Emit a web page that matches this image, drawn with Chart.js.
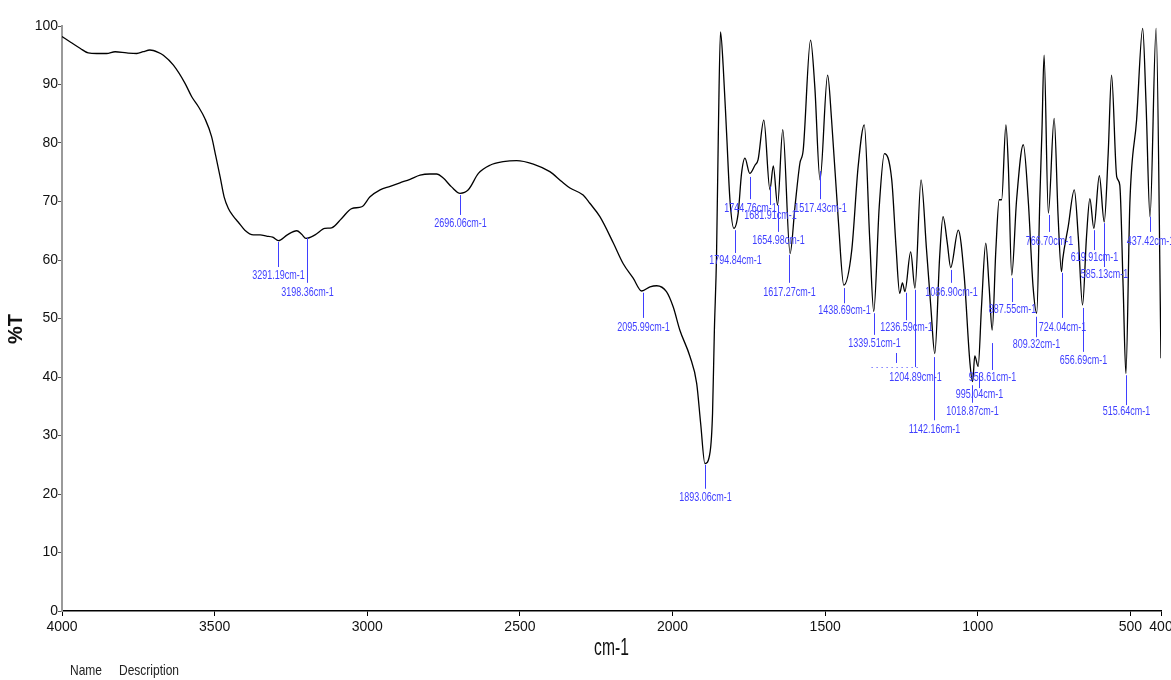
<!DOCTYPE html>
<html><head><meta charset="utf-8">
<script src="https://cdn.jsdelivr.net/npm/chart.js@4.4.1/dist/chart.umd.min.js"></script>
<style>html,body{margin:0;padding:0;background:#fff}#wrap{width:1171px;height:680px;position:relative}</style>
</head><body><div id="wrap"><canvas id="c" width="1171" height="680"></canvas></div>
<script>
// ---- data ----
const wavenumbers = [4000,3974,3941,3914,3886,3854,3826,3788,3755,3734,3712,3685,3668,3635,3597,3575,3553,3532,3510,3496,3482,3469,3455,3439,3423,3401,3373,3351,3330,3310,3291,3262,3231,3215,3201,3171,3139,3117,3084,3051,3018,2991,2958,2925,2893,2860,2827,2795,2773,2751,2724,2696,2669,2636,2598,2555,2511,2456,2402,2363,2336,2293,2271,2238,2194,2162,2129,2101,2074,2052,2020,1998,1976,1943,1921,1908,1894,1877,1869,1863,1856,1850,1843,1834,1823,1812,1799,1785,1774,1763,1747,1730,1720,1701,1681,1670,1656,1639,1615,1599,1583,1572,1548,1534,1517,1492,1479,1457,1439,1413,1392,1372,1354,1341,1323,1306,1282,1268,1256,1247,1239,1220,1206,1186,1168,1154,1141,1125,1114,1100,1089,1064,1045,1026,1017,1010,999,988,974,963,953,941,930,922,908,900,889,873,851,835,819,807,797,790,783,769,750,737,726,722,704,684,671,657,644,633,620,602,586,573,562,545,535,524,515,502,480,460,449,436,416,400];
const transmittance = [98.2,97.3,96.2,95.4,95.3,95.3,95.6,95.4,95.3,95.6,95.9,95.5,95.0,93.3,90.2,87.9,86.2,84.2,81.1,77.7,74.2,70.8,68.8,67.5,66.5,65.1,64.3,64.3,64.1,63.9,63.3,64.3,65.0,64.4,63.7,64.3,65.4,65.5,67.1,68.8,69.1,70.8,72.0,72.6,73.2,73.8,74.5,74.7,74.7,74.0,72.5,71.4,72.0,74.8,76.2,76.8,77.0,76.4,75.1,73.4,72.3,71.1,69.7,67.4,62.9,59.4,56.9,54.7,55.4,55.6,54.6,52.0,48.0,43.5,38.9,32.1,25.2,27.2,33.8,48.0,60.6,81.7,99.0,93.0,81.7,70.3,65.4,68.0,74.8,77.4,74.8,76.2,77.1,83.9,72.0,76.1,69.4,82.3,61.1,69.1,76.5,78.8,97.6,89.6,73.7,91.6,83.9,66.8,55.7,61.7,76.0,83.1,63.4,51.2,69.1,78.2,73.7,62.3,54.3,56.1,54.6,61.4,55.2,73.7,61.7,52.0,44.0,60.6,67.4,62.9,58.7,65.1,57.5,42.5,39.2,43.6,41.8,52.0,62.9,55.4,48.0,61.7,70.3,70.3,83.1,76.0,57.4,70.3,79.7,70.3,55.4,50.9,70.3,82.0,95.0,68.0,84.2,67.4,58.0,60.1,65.7,72.0,64.0,52.3,64.0,70.5,65.4,74.4,66.5,78.2,91.6,74.2,72.8,55.4,40.6,69.7,83.9,99.6,86.8,67.4,99.6,43.2];
const xTickValues = [4000,3500,3000,2500,2000,1500,1000,500,400];
const yTickValues = [0,10,20,30,40,50,60,70,80,90,100];
const peakWavenumbers = [3291.19,3198.36,2696.06,2095.99,1893.06,1794.84,1744.76,1681.91,1654.98,1617.27,1517.43,1438.69,1339.51,1236.59,1204.89,1142.16,1086.90,1018.87,995.04,953.61,887.55,809.32,766.70,724.04,656.69,619.91,585.13,515.64,437.42];
const peakLabels = peakWavenumbers.map(v => v.toFixed(2) + 'cm-1');
const xTitle = 'cm-1';
const yTitle = '%T';
const footerWords = ['Name', 'Description'];

// ---- label layout (placement only, in %T units): [leader top, leader bottom, text centre] ----
const peakLabelLayout = [
  [63.1,58.8,57.4],[63.8,56.1,54.5],[71.1,67.7,66.3],[54.4,50.1,48.5],[25.0,20.9,19.5],
  [65.1,61.2,60.0],[74.2,70.4,68.9],[72.6,69.4,67.7],[69.4,64.8,63.4],[60.9,56.1,54.5],
  [75.2,70.4,68.9],[55.2,52.6,51.3],[50.9,47.2,45.8],[54.4,49.7,48.5],[54.9,41.7,40.0],
  [43.4,32.6,31.1],[58.3,56.1,54.4],[38.6,35.6,34.2],[40.7,38.1,37.1],[45.8,41.2,40.0],
  [56.9,52.8,51.6],[50.3,46.8,45.6],[67.7,64.8,63.2],[57.8,50.1,48.5],[51.8,44.3,42.9],
  [65.1,61.7,60.5],[66.3,58.8,57.6],[40.3,35.2,34.2],[67.4,64.8,63.2]
];

const SANS = "'Liberation Sans',Arial,sans-serif";
const BLUE = '#3f3fff';

// draw condensed text (horizontal squeeze) centred at (x, y)
function squeezed(ctx, text, x, y, sx, align) {
  ctx.save();
  ctx.translate(x, y);
  ctx.scale(sx, 1);
  ctx.textAlign = align || 'center';
  ctx.textBaseline = 'middle';
  ctx.fillText(text, 0, 0);
  ctx.restore();
}

const overlayPlugin = {
  id: 'overlay',
  afterDraw(chart) {
    const {ctx, scales: {x, y}} = chart;
    ctx.save();
    ctx.strokeStyle = BLUE; ctx.fillStyle = BLUE; ctx.lineWidth = 1;
    ctx.font = '13px ' + SANS;
    peakWavenumbers.forEach((w, i) => {
      const [t0, t1, tt] = peakLabelLayout[i];
      const px = Math.round(x.getPixelForValue(w)) + 0.5;
      ctx.beginPath();
      ctx.moveTo(px, y.getPixelForValue(t0));
      ctx.lineTo(px, y.getPixelForValue(t1));
      ctx.stroke();
      squeezed(ctx, peakLabels[i], px, y.getPixelForValue(tt), 0.69);
    });
    // small leader artefact near 1267 cm-1 with dotted baseline
    const lx = Math.round(x.getPixelForValue(1267)) + 0.5;
    ctx.beginPath(); ctx.moveTo(lx, y.getPixelForValue(44.1)); ctx.lineTo(lx, y.getPixelForValue(42.4)); ctx.stroke();
    ctx.setLineDash([1, 4]);
    const dy = Math.round(y.getPixelForValue(41.7)) + 0.5;
    ctx.beginPath(); ctx.moveTo(x.getPixelForValue(1348), dy); ctx.lineTo(x.getPixelForValue(1196), dy); ctx.stroke();
    ctx.setLineDash([]);
    ctx.restore();

    ctx.save();
    // y title
    ctx.fillStyle = '#111';
    ctx.font = 'bold 20px ' + SANS;
    ctx.translate(16, 329); ctx.rotate(-Math.PI / 2);
    ctx.textAlign = 'center'; ctx.textBaseline = 'middle';
    ctx.fillText(yTitle, 0, 0);
    ctx.restore();

    ctx.save();
    // x title
    ctx.fillStyle = '#111';
    ctx.font = '23px ' + SANS;
    squeezed(ctx, xTitle, (x.left + x.right) / 2, 649, 0.68);
    // footer
    ctx.fillStyle = '#222'; ctx.font = '15px ' + SANS;
    squeezed(ctx, footerWords[0], 70, 671, 0.8, 'left');
    squeezed(ctx, footerWords[1], 119, 671, 0.8, 'left');
    ctx.restore();
  }
};

new Chart(document.getElementById('c').getContext('2d'), {
  type: 'line',
  data: {
    datasets: [{
      data: wavenumbers.map((w, i) => ({x: w, y: transmittance[i]})),
      borderColor: '#000', borderWidth: 1.3, pointRadius: 0,
      cubicInterpolationMode: 'monotone', fill: false
    }]
  },
  options: {
    responsive: false, animation: false, devicePixelRatio: 1,
    layout: {padding: {top: 26, right: 10, left: 0, bottom: 0}},
    plugins: {legend: {display: false}, tooltip: {enabled: false}},
    scales: {
      x: {
        type: 'linear', reverse: true, min: 400, max: 4000,
        afterBuildTicks: s => { s.ticks = xTickValues.map(v => ({value: v})); },
        afterFit: s => { s.height = 69; s.paddingLeft = 0; s.paddingRight = 0; },
        grid: {drawOnChartArea: false, drawTicks: true, tickLength: 5, color: '#000', lineWidth: 1},
        border: {display: true, color: '#000', width: 1.5},
        ticks: {font: {family: SANS, size: 14}, color: '#111', padding: 3, maxRotation: 0, autoSkip: false,
                callback: v => String(v)}
      },
      y: {
        min: 0, max: 100,
        afterBuildTicks: s => { s.ticks = yTickValues.map(v => ({value: v})); },
        afterFit: s => { s.width = 62; s.paddingTop = 0; s.paddingBottom = 0; },
        grid: {drawOnChartArea: false, drawTicks: true, tickLength: 4, color: '#555', lineWidth: 1},
        border: {display: true, color: '#9a9a9a', width: 2},
        ticks: {font: {family: SANS, size: 14}, color: '#111', padding: 0, callback: v => String(v)}
      }
    }
  },
  plugins: [overlayPlugin]
});
</script>
</body></html>
